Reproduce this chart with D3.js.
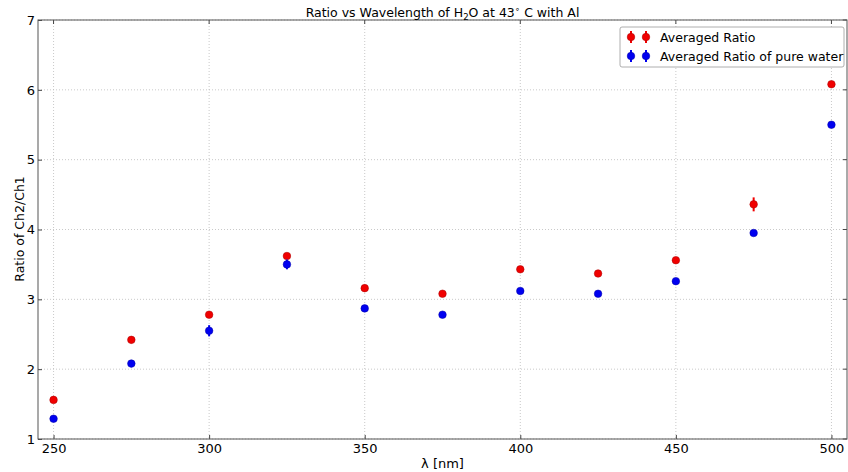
<!DOCTYPE html>
<html><head><meta charset="utf-8">
<script src="https://cdn.jsdelivr.net/npm/d3@7"></script>
<style>body{margin:0;background:#fff}svg{display:block;font-family:"DejaVu Sans",sans-serif}</style>
</head><body><svg id="c" width="848" height="472"></svg>
<script>
const wavelengths = [250,275,300,325,350,375,400,425,450,475,500];
const ratioAvg = [1.56,2.42,2.78,3.62,3.16,3.08,3.43,3.37,3.56,4.36,6.08];
const ratioErr = [0.02,0.02,0.03,0.03,0.02,0.02,0.02,0.02,0.02,0.10,0.02];
const waterAvg = [1.29,2.08,2.55,3.50,2.87,2.78,3.12,3.08,3.26,3.95,5.50];
const waterErr = [0.02,0.02,0.08,0.07,0.02,0.02,0.02,0.02,0.02,0.04,0.02];
const xTicks = [250,300,350,400,450,500];
const yTicks = [1,2,3,4,5,6,7];
const seriesNames = ["Averaged Ratio","Averaged Ratio of pure water"];
const colors = ["#f00000","#0000f0"];

const svg = d3.select("#c");
const L=38,T=20,R=847,B=439;
const FS=12.5;
const x = d3.scaleLinear().domain([245,505]).range([L,R]);
const y = d3.scaleLinear().domain([1,7]).range([B,T]);

// grid
const g = svg.append("g");
g.selectAll(".gx").data(xTicks).enter().append("line")
 .attr("x1",d=>x(d)).attr("x2",d=>x(d)).attr("y1",T).attr("y2",B)
 .attr("stroke","#bbb").attr("stroke-width",0.8).attr("stroke-dasharray","1,2");
g.selectAll(".gy").data(yTicks).enter().append("line")
 .attr("y1",d=>y(d)).attr("y2",d=>y(d)).attr("x1",L).attr("x2",R)
 .attr("stroke","#bbb").attr("stroke-width",0.8).attr("stroke-dasharray","1,2");

// axes
const xa = svg.append("g").attr("transform",`translate(0,${B})`)
 .call(d3.axisBottom(x).tickValues(xTicks).tickSize(-4).tickPadding(5).tickFormat(d3.format("d")));
const ya = svg.append("g").attr("transform",`translate(${L},0)`)
 .call(d3.axisLeft(y).tickValues(yTicks).tickSize(-4).tickPadding(3).tickFormat(d3.format("d")));
[xa,ya].forEach(a=>{a.select(".domain").remove();a.selectAll("text").attr("font-size",FS+0.5).attr("fill","#000").attr("font-family","DejaVu Sans");a.selectAll("line").attr("stroke","#444");});
// right/top ticks
svg.append("g").selectAll("line").data(yTicks).enter().append("line")
 .attr("x1",R).attr("x2",R-4).attr("y1",d=>y(d)).attr("y2",d=>y(d)).attr("stroke","#444");
svg.append("g").selectAll("line").data(xTicks).enter().append("line")
 .attr("y1",T).attr("y2",T+4).attr("x1",d=>x(d)).attr("x2",d=>x(d)).attr("stroke","#444");

svg.append("rect").attr("x",L).attr("y",T).attr("width",R-L).attr("height",B-T)
 .attr("fill","none").attr("stroke","#555").attr("stroke-width",1);

// data
function drawSeries(vals,errs,col){
  const s = svg.append("g");
  wavelengths.forEach((w,i)=>{
    s.append("line").attr("x1",x(w)).attr("x2",x(w))
     .attr("y1",y(vals[i]-errs[i])).attr("y2",y(vals[i]+errs[i]))
     .attr("stroke",col).attr("stroke-width",2);
    s.append("circle").attr("cx",x(w)).attr("cy",y(vals[i])).attr("r",3.8)
     .attr("fill",col).attr("stroke",d3.color(col).darker(1)).attr("stroke-width",0.5);
  });
}
drawSeries(ratioAvg,ratioErr,colors[0]);
drawSeries(waterAvg,waterErr,colors[1]);

// title
const t = svg.append("text").attr("x",(L+R)/2).attr("y",17).attr("text-anchor","middle").attr("font-size",FS);
t.append("tspan").text("Ratio vs Wavelength of H");
t.append("tspan").attr("font-size",8.5).attr("dy",3).text("2");
t.append("tspan").attr("dy",-3).text("O at 43");
t.append("tspan").attr("font-size",8.5).attr("dy",-5).text("∘");
t.append("tspan").attr("dy",5).text("  C with Al");

// axis labels
svg.append("text").attr("x",(L+R)/2).attr("y",468).attr("text-anchor","middle").attr("font-size",FS+0.5).text("λ [nm]");
svg.append("text").attr("transform","translate(24,229) rotate(-90)").attr("text-anchor","middle").attr("font-size",FS).text("Ratio of Ch2/Ch1");
svg.append("text").attr("x",(L+R)/2).attr("y",482).attr("text-anchor","middle").attr("font-size",FS).attr("fill","#333").text("Transmission ratio of H2O at 43°C with Al");

// legend
const lg = svg.append("g");
lg.append("rect").attr("x",620).attr("y",27).attr("width",224).attr("height",40).attr("rx",2)
 .attr("fill","#fff").attr("stroke","#999").attr("stroke-width",0.8);
seriesNames.forEach((n,i)=>{
  const yy = 37 + i*19;
  [631,646].forEach(xx=>{
    lg.append("line").attr("x1",xx).attr("x2",xx).attr("y1",yy-6).attr("y2",yy+6).attr("stroke",colors[i]).attr("stroke-width",2);
    lg.append("circle").attr("cx",xx).attr("cy",yy).attr("r",3.8).attr("fill",colors[i]).attr("stroke",d3.color(colors[i]).darker(1)).attr("stroke-width",0.5);
  });
  lg.append("text").attr("x",660).attr("y",yy+4.5).attr("font-size",FS).text(n);
});
</script></body></html>
